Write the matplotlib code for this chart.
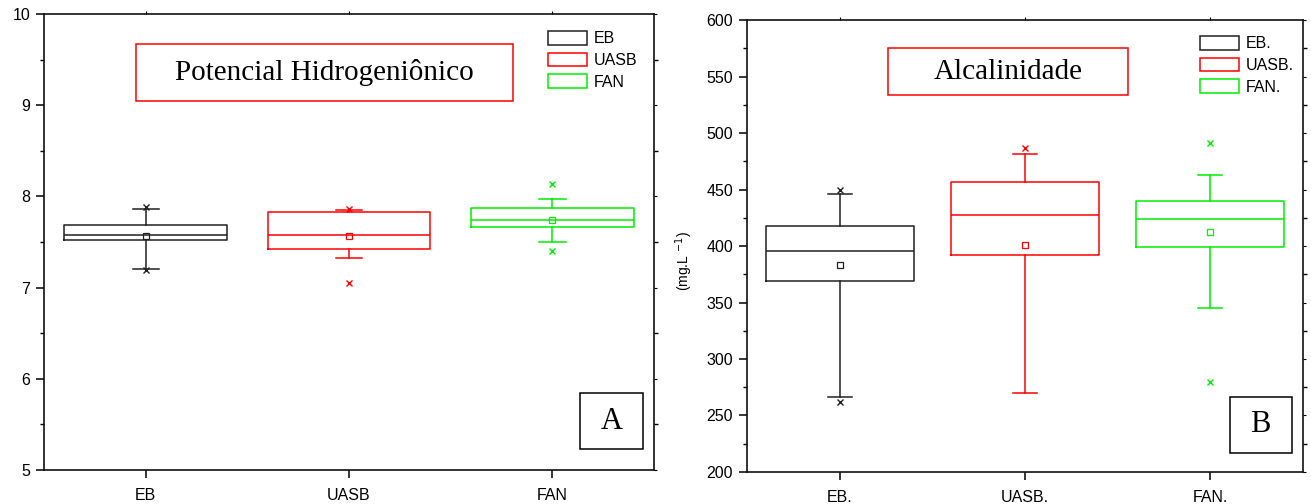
import matplotlib
matplotlib.use("Agg")
import matplotlib.pyplot as plt
from matplotlib.patches import Patch, Rectangle
from matplotlib.ticker import MultipleLocator

plt.rcParams['font.family'] = ['Liberation Sans', 'DejaVu Sans']

# pH summary statistics (EB, UASB, FAN)
ph_labels = ["EB", "UASB", "FAN"]
ph_q1 = [7.52, 7.42, 7.66]
ph_med = [7.58, 7.58, 7.74]
ph_q3 = [7.69, 7.83, 7.87]
ph_mean = [7.57, 7.57, 7.74]
ph_whislo = [7.20, 7.32, 7.50]
ph_whishi = [7.86, 7.85, 7.97]
ph_extremes = [[7.19, 7.88], [7.05, 7.86], [7.40, 8.14]]

# Alkalinity summary statistics (mg/L)
alk_labels = ["EB.", "UASB.", "FAN."]
alk_q1 = [369, 392, 399]
alk_med = [396, 427, 424]
alk_q3 = [418, 457, 440]
alk_mean = [383, 401, 412]
alk_whislo = [266, 270, 345]
alk_whishi = [446, 481, 463]
alk_extremes = [[262, 450], [487], [280, 491]]

colors = ["#202020", "#ff0000", "#00ee00"]


def draw_boxes(ax, labels, q1, med, q3, mean, lo, hi, extremes):
    for i in range(len(labels)):
        st = dict(med=med[i], q1=q1[i], q3=q3[i], mean=mean[i],
                  whislo=lo[i], whishi=hi[i], fliers=extremes[i], label=labels[i])
        c = colors[i]
        ax.bxp([st], positions=[i + 1], widths=0.8, showmeans=True,
               showfliers=True, manage_ticks=False,
               boxprops=dict(color=c, lw=1.1),
               medianprops=dict(color=c, lw=1.1),
               whiskerprops=dict(color=c, lw=1.1),
               capprops=dict(color=c, lw=1.1),
               capwidths=0.13,
               meanprops=dict(marker='s', markerfacecolor='none',
                              markeredgecolor=c, markersize=4, markeredgewidth=0.9),
               flierprops=dict(marker='x', markeredgecolor=c,
                               markersize=4.5, markeredgewidth=1.0))
    ax.set_xlim(0.5, 3.5)
    ax.set_xticks([1, 2, 3])
    ax.set_xticklabels(labels)
    for s in ax.spines.values():
        s.set_linewidth(1.2)
        s.set_color("#111111")
    ax.tick_params(axis='both', which='major', direction='out', length=6,
                   width=1.1, labelsize=11.5, pad=4)
    ax.tick_params(axis='x', which='major', pad=7)
    ax.tick_params(axis='y', which='minor', direction='out', length=3, width=1.0)
    ax.tick_params(axis='x', which='minor', bottom=False)
    # faint mirrored ticks on the top and right
    ax.tick_params(axis='both', which='both', top=True, right=True)
    for t in ax.xaxis.get_major_ticks() + ax.yaxis.get_major_ticks() + ax.yaxis.get_minor_ticks():
        t.tick2line.set_color("#d0d0d0")
        t.tick2line.set_markersize(2.5)
        t.tick2line.set_markeredgewidth(0.8)
    handles = [Patch(facecolor='none', edgecolor=colors[i], lw=1.1, label=labels[i])
               for i in range(len(labels))]
    return handles


def add_legend(ax, handles, x, y):
    ax.legend(handles=handles, loc='upper left', bbox_to_anchor=(x, y),
              frameon=False, fontsize=11.5, handlelength=2.45, handleheight=0.95,
              handletextpad=0.4, labelspacing=0.4, borderpad=0, borderaxespad=0)


fig = plt.figure(figsize=(13.11, 5.04), dpi=100)

# ---- Panel A: pH ----
axA = fig.add_axes([0.0336, 0.0675, 0.4653, 0.9048])
hA = draw_boxes(axA, ph_labels, ph_q1, ph_med, ph_q3, ph_mean,
                ph_whislo, ph_whishi, ph_extremes)
axA.set_ylim(5, 10)
axA.yaxis.set_major_locator(MultipleLocator(1))
axA.yaxis.set_minor_locator(MultipleLocator(0.5))
add_legend(axA, hA, 0.826, 0.963)
axA.add_patch(Rectangle((0.151, 0.809), 0.618, 0.125, transform=axA.transAxes,
                        fill=False, edgecolor='#ff0000', lw=1.1))
axA.text(0.46, 0.872, "Potencial Hidrogeniônico", transform=axA.transAxes,
         ha='center', va='center', fontsize=21, family='Liberation Serif')
axA.add_patch(Rectangle((0.879, 0.046), 0.103, 0.123, transform=axA.transAxes,
                        fill=False, edgecolor='black', lw=1.1))
axA.text(0.930, 0.107, "A", transform=axA.transAxes, ha='center', va='center',
         fontsize=22, family='Liberation Serif')

# ---- Panel B: alkalinity ----
axB = fig.add_axes([0.5698, 0.0635, 0.4241, 0.8968])
hB = draw_boxes(axB, alk_labels, alk_q1, alk_med, alk_q3, alk_mean,
                alk_whislo, alk_whishi, alk_extremes)
axB.set_ylim(200, 600)
axB.yaxis.set_major_locator(MultipleLocator(50))
axB.yaxis.set_minor_locator(MultipleLocator(25))
axB.set_ylabel("(mg.L $^{-1}$)", fontsize=10)
axB.yaxis.set_label_coords(-0.094, 0.467)
add_legend(axB, hB, 0.815, 0.965)
axB.add_patch(Rectangle((0.254, 0.834), 0.431, 0.104, transform=axB.transAxes,
                        fill=False, edgecolor='#ff0000', lw=1.1))
axB.text(0.469, 0.886, "Alcalinidade", transform=axB.transAxes,
         ha='center', va='center', fontsize=21, family='Liberation Serif')
axB.add_patch(Rectangle((0.869, 0.042), 0.111, 0.124, transform=axB.transAxes,
                        fill=False, edgecolor='black', lw=1.1))
axB.text(0.924, 0.104, "B", transform=axB.transAxes, ha='center', va='center',
         fontsize=22, family='Liberation Serif')

fig.savefig("out.png", dpi=100)
